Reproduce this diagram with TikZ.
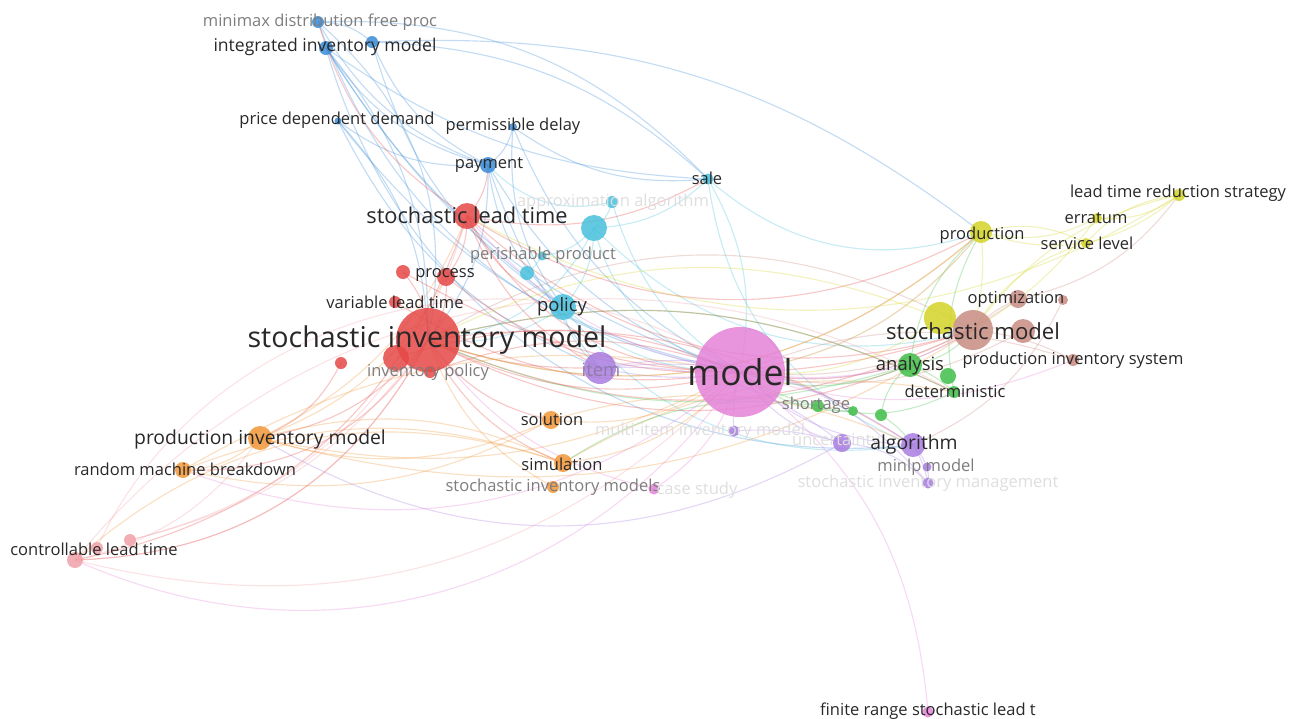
\documentclass[tikz,border=0pt]{standalone}
\usepackage{fontspec}
\setmainfont{Open Sans}
\usetikzlibrary{positioning}
\pgfdeclarelayer{links}
\pgfsetlayers{links,main}
\definecolor{blueN}{RGB}{58,140,214}
\definecolor{cyanN}{RGB}{72,192,220}
\definecolor{redN}{RGB}{228,72,70}
\definecolor{purpN}{RGB}{168,124,224}
\definecolor{pinkN}{RGB}{228,130,216}
\definecolor{orngN}{RGB}{240,150,56}
\definecolor{salmN}{RGB}{240,160,168}
\definecolor{grnN}{RGB}{64,190,72}
\definecolor{ylwN}{RGB}{212,212,40}
\definecolor{brwnN}{RGB}{200,140,130}
\definecolor{labc}{RGB}{40,40,40}
\definecolor{labg}{RGB}{125,125,125}
\definecolor{labf}{RGB}{222,222,222}

\begin{document}
\begin{tikzpicture}[
  x=0.02cm, y=-0.02cm,
  dot/.style={circle, inner sep=0, minimum size=#1*0.02cm, fill opacity=0.85},
  lab/.style={inner sep=0, text=labc, font=\fontsize{9.4}{10}\selectfont},
  labm/.style={lab, font=\fontsize{10.5}{12}\selectfont},
  labl/.style={lab, font=\fontsize{11}{13}\selectfont},
  dim/.style={text=labg},
  faint/.style={text=labf},
  lnk/.style={line width=0.65pt, draw opacity=0.3}
]
\useasboundingbox (0,0) rectangle (1289,718);

% nodes
\node[dot=12, fill=blueN] (mmx) at (318,22) {};
\node[dot=12, fill=blueN] (blu2) at (372,42) {};
\node[dot=14, fill=blueN] (iim) at (326,48) {};
\node[dot=7, fill=blueN] (pdd) at (338,121) {};
\node[dot=8, fill=blueN] (pdl) at (513,127) {};
\node[dot=16, fill=blueN] (pay) at (488,165) {};

\node[dot=11, fill=cyanN] (sale) at (708,179) {};
\node[dot=12, fill=cyanN] (apx) at (612,202) {};
\node[dot=26, fill=cyanN] (cyb) at (594,228) {};
\node[dot=9, fill=cyanN] (per) at (542,256) {};
\node[dot=14, fill=cyanN] (cy2) at (527,273) {};
\node[dot=26, fill=cyanN] (pol) at (563,307) {};

\node[dot=26, fill=redN] (slt) at (467,216) {};
\node[dot=18, fill=redN] (prc) at (446,277) {};
\node[dot=14, fill=redN] (rd2) at (403,272) {};
\node[dot=12, fill=redN] (vlt) at (395,302) {};
\node[dot=64, fill=redN] (sim) at (428,340) {};
\node[dot=26, fill=redN] (rd3) at (396,358) {};
\node[dot=12, fill=redN] (ipo) at (430,372) {};
\node[dot=12, fill=redN] (rd4) at (341,363) {};

\node[dot=32, fill=purpN] (itm) at (600,368) {};
\node[dot=11, fill=purpN] (pu2) at (734,431) {};
\node[dot=18, fill=purpN] (unc) at (842,443) {};
\node[dot=24, fill=purpN] (alg) at (913,445) {};
\node[dot=9, fill=purpN] (mnl) at (927,467) {};
\node[dot=11, fill=purpN] (sgm) at (928,483) {};

\node[dot=90, fill=pinkN] (mdl) at (740,372) {};
\node[dot=11, fill=pinkN] (frs) at (928,712) {};
\node[dot=11, fill=pinkN] (cst) at (654,489) {};

\node[dot=24, fill=orngN] (pim) at (260,438) {};
\node[dot=16, fill=orngN] (rmb) at (183,470) {};
\node[dot=18, fill=orngN] (sol) at (551,420) {};
\node[dot=18, fill=orngN] (smu) at (563,463) {};
\node[dot=12, fill=orngN] (sms) at (553,487) {};

\node[dot=16, fill=salmN] (ctl) at (75,560) {};
\node[dot=12, fill=salmN] (sa2) at (97,548) {};
\node[dot=12, fill=salmN] (sa3) at (130,540) {};

\node[dot=24, fill=grnN] (ana) at (910,365) {};
\node[dot=16, fill=grnN] (gr2) at (948,376) {};
\node[dot=12, fill=grnN] (det) at (954,392) {};
\node[dot=12, fill=grnN] (sho) at (818,406) {};
\node[dot=10, fill=grnN] (gr3) at (853,411) {};
\node[dot=12, fill=grnN] (gr4) at (881,415) {};

\node[dot=22, fill=ylwN] (prd) at (981,232) {};
\node[dot=10, fill=ylwN] (err) at (1097,218) {};
\node[dot=10, fill=ylwN] (svl) at (1086,243) {};
\node[dot=12, fill=ylwN] (lts) at (1179,195) {};
\node[dot=32, fill=ylwN] (yl2) at (940,318) {};

\node[dot=40, fill=brwnN] (smd) at (973,330) {};
\node[dot=18, fill=brwnN] (opt) at (1018,299) {};
\node[dot=24, fill=brwnN] (br2) at (1023,331) {};
\node[dot=10, fill=brwnN] (br3) at (1063,300) {};
\node[dot=12, fill=brwnN] (pis) at (1073,360) {};

% links
\begin{pgfonlayer}{links}
\foreach \a/\b/\c/\k [evaluate=\k as \kk using 2*\k] in {
  mmx/blu2/blueN/10, mmx/pay/blueN/-10, mmx/sim/blueN/15, mmx/sale/blueN/12, mmx/mdl/blueN/-15,
  blu2/sale/blueN/10, blu2/pay/blueN/-10, blu2/pol/blueN/-10, blu2/prd/blueN/10,
  iim/pay/blueN/-10, iim/mdl/blueN/-10, iim/sim/blueN/10, iim/pol/blueN/-5, iim/alg/blueN/-20, iim/sale/blueN/-8,
  pdd/pay/blueN/-10, pdd/sim/blueN/10, pdd/mdl/blueN/-10, pdd/itm/blueN/-10,
  pdl/pay/blueN/10, pdl/mdl/blueN/-10, pdl/sale/blueN/-10, pdl/pol/blueN/-10,
  pay/mdl/blueN/-10, pay/itm/blueN/-5, pay/pol/blueN/-10, pay/sim/blueN/10,
  sale/mdl/cyanN/10, sale/prd/cyanN/-15, sale/cyb/cyanN/10, sale/alg/cyanN/-15,
  apx/cyb/cyanN/10, apx/pay/cyanN/15, apx/mdl/cyanN/-10,
  cyb/per/cyanN/10, cyb/pol/cyanN/10, cyb/mdl/cyanN/-15, cyb/sim/cyanN/15, cyb/smd/cyanN/-15,
  per/cy2/cyanN/5, pol/mdl/cyanN/-10, pol/itm/cyanN/-10, pol/alg/cyanN/-15, pol/sim/cyanN/10,
  slt/mdl/redN/-15, slt/pay/redN/-10, slt/mmx/redN/10, slt/pol/redN/-10, slt/smd/redN/-15,
  slt/prd/redN/-15, slt/sale/redN/-10, slt/prc/redN/10, slt/ctl/redN/15, slt/itm/redN/-10,
  prc/mdl/redN/-10, prc/sim/redN/10, rd2/sim/redN/10, vlt/mdl/redN/-10, rd2/smd/redN/-12,
  sim/mdl/redN/-10, sim/itm/redN/-5, sim/sol/redN/-10, sim/smu/redN/-10, sim/pim/redN/10,
  sim/rmb/redN/15, sim/ctl/redN/15, sim/smd/redN/-12, sim/prd/redN/-15, sim/ana/redN/-12,
  sim/alg/redN/10, sim/det/redN/10, rd3/mdl/redN/10, ipo/mdl/redN/10, rd4/pim/redN/10,
  pim/mdl/orngN/-10, pim/sol/orngN/-10, pim/smu/orngN/10, pim/rmb/orngN/10, pim/slt/orngN/-10,
  pim/prc/orngN/-10, pim/smd/orngN/-12, rmb/sol/orngN/-10, rmb/mdl/orngN/10, rmb/smu/orngN/10,
  sol/mdl/orngN/-10, sol/alg/orngN/10, smu/mdl/orngN/-10, smu/det/orngN/10, sms/sim/orngN/10,
  smu/ctl/orngN/-15,
  itm/mdl/purpN/-5, itm/alg/purpN/10, itm/unc/purpN/10, itm/sgm/purpN/15,
  alg/mdl/purpN/10, alg/mnl/purpN/5, alg/sgm/purpN/5, mnl/sgm/purpN/5, unc/mdl/purpN/10,
  unc/sgm/purpN/10, pu2/mdl/purpN/5, pu2/unc/purpN/5, unc/pim/purpN/15,
  mdl/frs/pinkN/12, mdl/cst/pinkN/10, cst/sim/pinkN/10, mdl/ctl/pinkN/20, mdl/smd/pinkN/-10,
  mdl/ana/pinkN/-5, mdl/prd/pinkN/-10, mdl/pis/pinkN/-10, mdl/rmb/pinkN/15, mdl/slt/pinkN/10,
  ana/mdl/grnN/10, ana/det/grnN/5, ana/smd/grnN/-10, sho/mdl/grnN/5, sho/det/grnN/-10,
  gr3/mdl/grnN/10, gr4/alg/grnN/5, ana/sim/grnN/10, det/prd/grnN/10, sho/smu/grnN/-10,
  ana/prd/grnN/10, gr4/ana/grnN/10, det/sim/grnN/-10,
  prd/mdl/ylwN/10, prd/smd/ylwN/5, prd/err/ylwN/-10, prd/svl/ylwN/10, prd/lts/ylwN/-15,
  err/lts/ylwN/-10, svl/lts/ylwN/10, svl/smd/ylwN/-10, lts/smd/ylwN/-10, yl2/mdl/ylwN/10,
  yl2/sim/ylwN/-12, prd/sim/ylwN/15, lts/slt/ylwN/15, err/smd/ylwN/5,
  smd/mdl/brwnN/10, smd/opt/brwnN/5, smd/pis/brwnN/5, smd/br2/brwnN/5, opt/mdl/brwnN/10,
  pis/mdl/brwnN/-10, br2/mdl/brwnN/10, opt/lts/brwnN/-10, smd/sim/brwnN/-15, br3/alg/brwnN/10,
  ctl/sim/salmN/-15, ctl/mdl/salmN/-15, ctl/pim/salmN/-10, ctl/sa2/salmN/5, sa3/sim/salmN/-10,
  ctl/det/salmN/20, sa2/mdl/salmN/25, sa3/slt/salmN/-15}
  \draw[lnk, draw=\c] (\a.center) to[bend left=\kk] (\b.center);
\end{pgfonlayer}

% labels
\node[lab, dim] (l-mmx) at (320,22) {minimax distribution free proc};
\node[lab, font=\fontsize{10}{11}\selectfont] (l-iim) at (325,47) {integrated inventory model};
\node[lab] (l-pdd) at (337,120) {price dependent demand};
\node[lab] (l-pdl) at (513,126) {permissible delay};
\node[lab] (l-pay) at (489,165) {payment};
\node[lab] (l-sale) at (707,178) {sale};
\node[lab, faint] (l-apx) at (613,202) {approximation algorithm};
\node[lab, dim] (l-per) at (543,255) {perishable product};
\node[labm] (l-pol) at (562,307) {policy};
\node[lab, font=\fontsize{12.4}{14}\selectfont] (l-slt) at (467,215) {stochastic lead time};
\node[lab] (l-prc) at (445,275) {process};
\node[lab] (l-vlt) at (395,302) {variable lead time};
\node[lab, font=\fontsize{16.3}{18}\selectfont] (l-sim) at (427,340) {stochastic inventory model};
\node[lab, dim] (l-ipo) at (428,372) {inventory policy};
\node[labm, text=purpN!45!labg] (l-itm) at (601,370) {item};
\node[lab, font=\fontsize{20.2}{24}\selectfont] (l-mdl) at (740,372) {model};
\node[lab, faint] (l-pu2) at (700,431) {multi-item inventory model};
\node[labl] (l-pim) at (260,439) {production inventory model};
\node[lab] (l-rmb) at (185,469) {random machine breakdown};
\node[lab] (l-sol) at (552,419) {solution};
\node[lab] (l-smu) at (562,464) {simulation};
\node[lab, dim] (l-sms) at (553,487) {stochastic inventory models};
\node[lab, faint] (l-cst) at (697,490) {case study};
\node[lab] (l-ctl) at (94,549) {controllable lead time};
\node[labm] (l-ana) at (910,366) {analysis};
\node[lab] (l-det) at (955,391) {deterministic};
\node[lab, dim] (l-sho) at (816,405) {shortage};
\node[lab, faint] (l-unc) at (836,441) {uncertainty};
\node[labl] (l-alg) at (914,444) {algorithm};
\node[lab, dim] (l-mnl) at (926,467) {minlp model};
\node[lab, faint] (l-sgm) at (928,483) {stochastic inventory management};
\node[lab] (l-frs) at (928,711) {finite range stochastic lead t};
\node[lab] (l-prd) at (982,235) {production};
\node[lab] (l-err) at (1096,218) {erratum};
\node[lab] (l-svl) at (1087,243) {service level};
\node[lab] (l-lts) at (1178,193) {lead time reduction strategy};
\node[lab, font=\fontsize{12.6}{15}\selectfont] (l-smd) at (973,331) {stochastic model};
\node[lab] (l-opt) at (1016,299) {optimization};
\node[lab] (l-pis) at (1073,360) {production inventory system};
\end{tikzpicture}
\end{document}
